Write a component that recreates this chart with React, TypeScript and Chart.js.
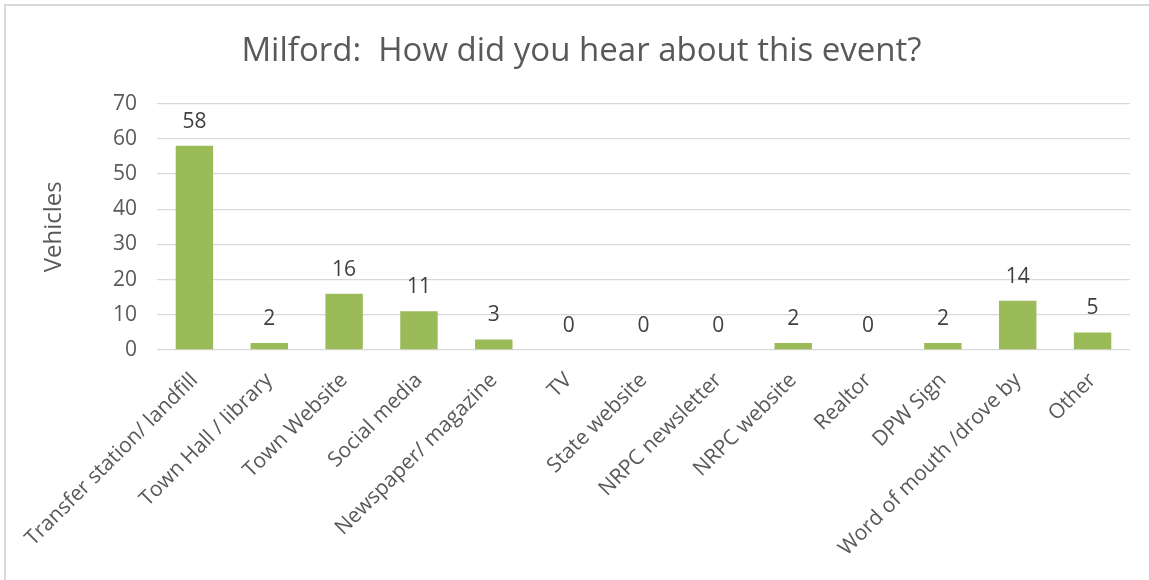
import React, { useEffect, useRef } from "react";
import { Chart, registerables } from "chart.js";

Chart.register(...registerables);

const chartTitle = "Milford:  How did you hear about this event?";
const yAxisTitle = "Vehicles";
const categories = [
  "Transfer station/ landfill",
  "Town Hall / library",
  "Town Website",
  "Social media",
  "Newspaper/ magazine",
  "TV",
  "State website",
  "NRPC newsletter",
  "NRPC website",
  "Realtor",
  "DPW Sign",
  "Word of mouth /drove by",
  "Other",
];
const vehicles = [58, 2, 16, 11, 3, 0, 0, 0, 2, 0, 2, 14, 5];
const yMin = 0;
const yMax = 70;
const yStep = 10;

const FONT = "'Open Sans', 'Noto Sans', sans-serif";

const dataLabelPlugin = {
  id: "barValueLabels",
  afterDatasetsDraw(chart: any) {
    const ctx = chart.ctx;
    const meta = chart.getDatasetMeta(0);
    const values = chart.data.datasets[0].data as number[];
    ctx.save();
    ctx.font = `21px ${FONT}`;
    ctx.fillStyle = "#404040";
    ctx.textAlign = "center";
    ctx.textBaseline = "alphabetic";
    meta.data.forEach((bar: any, i: number) => {
      ctx.fillText(String(values[i]), bar.x, bar.y - 18);
    });
    ctx.restore();
  },
};

export default function App() {
  const canvasRef = useRef<HTMLCanvasElement | null>(null);

  useEffect(() => {
    if (!canvasRef.current) return;
    const chart = new Chart(canvasRef.current, {
      type: "bar",
      data: {
        labels: categories,
        datasets: [
          {
            label: yAxisTitle,
            data: vehicles,
            backgroundColor: "#9BBB59",
            borderWidth: 0,
            barPercentage: 0.5,
            categoryPercentage: 1,
          },
        ],
      },
      options: {
        animation: false,
        responsive: false,
        maintainAspectRatio: false,
        devicePixelRatio: 1,
        layout: { padding: { left: 33, right: 19, top: 0, bottom: 0 } },
        plugins: {
          legend: { display: false },
          tooltip: { enabled: false },
          title: {
            display: true,
            text: chartTitle,
            color: "#595959",
            font: { family: FONT, size: 33, weight: "normal" },
            padding: { top: 32, bottom: 32 },
          },
        },
        scales: {
          x: {
            grid: { display: false },
            border: { display: false },
            ticks: {
              color: "#595959",
              font: { family: FONT, size: 21 },
              maxRotation: 45,
              minRotation: 45,
              autoSkip: false,
              padding: 10,
            },
            afterFit(scale: any) {
              scale.height = 230;
            },
          },
          y: {
            min: yMin,
            max: yMax,
            grid: { color: "#d9d9d9", lineWidth: 1.3, drawTicks: false },
            border: { display: false },
            ticks: {
              stepSize: yStep,
              color: "#595959",
              font: { family: FONT, size: 21 },
              padding: 20,
            },
            title: {
              display: true,
              text: yAxisTitle,
              color: "#595959",
              font: { family: FONT, size: 24, weight: "normal" },
              padding: { top: 7, bottom: 0 },
            },
            afterFit(scale: any) {
              scale.width = 124;
            },
          },
        },
      },
      plugins: [dataLabelPlugin],
    });
    return () => chart.destroy();
  }, []);

  return (
    <div
      style={{
        position: "absolute",
        left: 0,
        top: 0,
        width: 1149,
        height: 580,
        background: "#ffffff",
        overflow: "hidden",
      }}
    >
      <div
        style={{
          position: "absolute",
          left: 4,
          top: 4,
          width: 1200,
          height: 600,
          borderLeft: "2px solid #d9d9d9",
          borderTop: "2px solid #d9d9d9",
          boxSizing: "border-box",
        }}
      />
      <canvas
        ref={canvasRef}
        width={1149}
        height={580}
        style={{ position: "absolute", left: 0, top: 0, width: 1149, height: 580 }}
      />
    </div>
  );
}
